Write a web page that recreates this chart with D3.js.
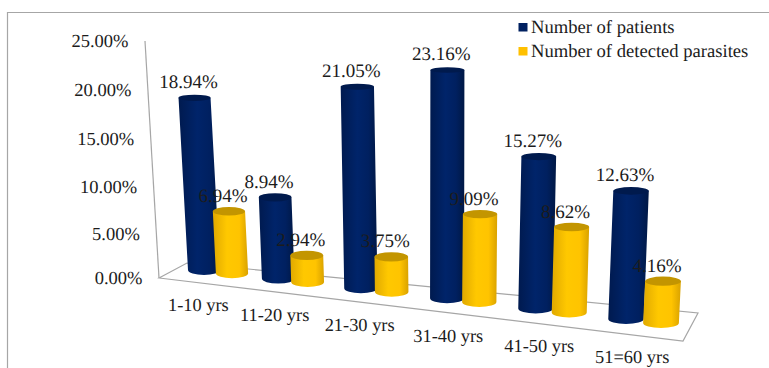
<!DOCTYPE html>
<html>
<head>
<meta charset="utf-8">
<script src="https://cdn.jsdelivr.net/npm/d3@7"></script>
<style>
html,body{margin:0;padding:0;background:#fff;}
text{font-family:"Liberation Serif",serif;fill:#1c1c1c;text-rendering:geometricPrecision;}
</style>
</head>
<body>
<svg id="chart" width="769" height="368"></svg>
<script>
const categories = ["1-10 yrs","11-20 yrs","21-30 yrs","31-40 yrs","41-50 yrs","51=60 yrs"];
const patients = [18.94,8.94,21.05,23.16,15.27,12.63];
const parasites = [6.94,2.94,3.75,9.09,8.62,4.16];
const tickValues = [0,5,10,15,20,25];
const seriesNames = ["Number of patients","Number of detected parasites"];

const svg = d3.select("#chart");
const fmt = v => v.toFixed(2) + "%";

// Oblique view of a 3D column chart: position on the floor, then height and lean.
const catX = d3.scalePow().exponent(1.08).domain([0,5]).range([204,626]);
const seriesGap = d3.scaleLinear().domain([0,5]).range([28,35]);
const floorY = d3.scaleLinear().domain([204,626]).range([270,319]);
const unitPx = d3.scaleLinear().domain([200,660]).range([8.7,9.99]);
const heightGain = 0.02; // taller columns come nearer the viewer and stretch a little
const leanPerUnit = d3.scaleLinear().domain([204,440,626]).range([-0.5,0,0.4]);
const radius = d3.scaleLinear().domain([204,640]).range([16,17.8]);
const capRy = d3.scaleLinear().domain([0,25]).range([5,2.6]);
const axisY = d3.scalePow().exponent(1.04).domain([0,25]).range([278,41]);
const axisX = d3.scaleLinear().domain([278,41]).range([159,145]);
const catLabelY = d3.scaleLinear().domain([0,5]).range([310.5,362.7]);

// Frame
svg.append("path").attr("d","M7.5,368V12.5H769").attr("fill","none").attr("stroke","#a6a6a6").attr("stroke-width",1.2);

// Value axis and the floor of the plot
const lineStyle = s => s.attr("fill","none").attr("stroke","#a6a6a6").attr("stroke-width",1.2);
const xFL = axisX(axisY(0)), yFL = axisY(0);
svg.append("path").attr("d",`M${axisX(axisY(25))},${axisY(25)}L${xFL},${yFL}`).call(lineStyle);
svg.append("path").attr("d",`M${xFL},${yFL}L187,263L698,313L683,341Z`).call(lineStyle);

// Horizontal shading across each column
const defs = svg.append("defs");
const shade = (id, stops) => {
  const g = defs.append("linearGradient").attr("id",id);
  stops.forEach(([o,c]) => g.append("stop").attr("offset",o).attr("stop-color",c));
};
shade("navyBody",[[0,"#001a4f"],[0.45,"#00246a"],[0.75,"#002060"],[1,"#001845"]]);
shade("goldBody",[[0,"#e0a900"],[0.4,"#ffc800"],[0.75,"#ffc400"],[1,"#d9a200"]]);
const bodies = [
  {values:patients, fill:"url(#navyBody)", cap:"#001a4d"},
  {values:parasites, fill:"url(#goldBody)", cap:"#c39500"}
];

const marks = [];
categories.forEach((c,i) => bodies.forEach((b,j) => {
  const x0 = catX(i) + j*seriesGap(i);
  const v = b.values[i];
  const y0 = floorY(x0);
  const h = (unitPx(x0) + heightGain*v)*v;
  marks.push({v, b, x0, y0, x1:x0+leanPerUnit(x0)*v, y1:y0-h, r:radius(x0), ry:capRy(v)});
}));

const cols = svg.append("g").selectAll("g").data(marks).join("g");
cols.append("path")
  .attr("d",d => `M${d.x1-d.r},${d.y1}L${d.x0-d.r},${d.y0}A${d.r},5 0 0 0 ${d.x0+d.r},${d.y0}L${d.x1+d.r},${d.y1}Z`)
  .attr("fill",d => d.b.fill);
cols.append("ellipse")
  .attr("cx",d => d.x1).attr("cy",d => d.y1).attr("rx",d => d.r).attr("ry",d => d.ry)
  .attr("fill",d => d.b.cap);

// Value labels sit above all columns
svg.append("g").selectAll("text").data(marks).join("text")
  .attr("x",d => d.x1-6).attr("y",d => d.y1-9.5)
  .attr("text-anchor","middle").attr("font-size",19)
  .text(d => fmt(d.v));

// Axis labels
svg.append("g").selectAll("text").data(tickValues).join("text")
  .attr("x",v => axisX(axisY(v))-16.5).attr("y",v => axisY(v)+6)
  .attr("text-anchor","end").attr("font-size",18.5)
  .text(fmt);

svg.append("g").selectAll("text").data(categories).join("text")
  .attr("x",(c,i) => catX(i)+(catX(i)-440)*0.028+1).attr("y",(c,i) => catLabelY(i))
  .attr("text-anchor","middle").attr("font-size",18.4)
  .text(c => c);

// Legend
const legendY = d3.scaleBand().domain(seriesNames).range([15,63]);
const legend = svg.append("g").selectAll("g").data(seriesNames).join("g");
legend.append("rect").attr("x",518.5).attr("y",n => legendY(n)+8).attr("width",9).attr("height",8.5)
  .attr("fill",(n,i) => ["#002060","#ffc000"][i]);
legend.append("text").attr("x",531).attr("y",n => legendY(n)+17.5).attr("font-size",18.6)
  .text(n => n);
</script>
</body>
</html>
